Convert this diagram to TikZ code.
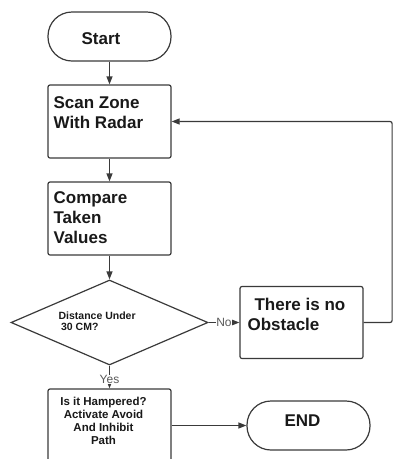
\documentclass[tikz,border=0pt]{standalone}
\usepackage{fontspec}
\setmainfont{Liberation Sans}
\usetikzlibrary{arrows.meta,shapes.geometric}

\definecolor{linegray}{HTML}{3A3A3A}
\definecolor{labelgray}{HTML}{5A5A5A}

\begin{document}
\begin{tikzpicture}[x=1pt, y=-1pt, >={Triangle[length=8pt, width=6pt]}, line width=1.2pt,
		terminal/.style={draw=linegray, rounded corners=24pt, minimum width=123pt, minimum height=49pt, inner sep=0pt},
		procbox/.style={draw=linegray, rounded corners=2pt, minimum width=123pt, inner sep=0pt},
		decision/.style={draw=linegray, diamond, minimum width=197pt, minimum height=85pt, inner sep=0pt},
		bigtext/.style={font=\fontsize{17}{20}\selectfont\bfseries, text=black!90, inner sep=0pt, align=left},
		smalltext/.style={font=\fontsize{11.5}{13}\selectfont\bfseries, text=black!90, inner sep=0pt},
		flowlabel/.style={font=\fontsize{12}{14}\selectfont, text=labelgray, fill=white, inner sep=0.5pt},
		flow/.style={->, draw=linegray}]
		\useasboundingbox (0,0) rectangle (393,459);
		% Draw the shapes
		\node[terminal] (start) at (109.5,36.5) {};
		\node[procbox, minimum height=73pt] (scan) at (109.5,121.5) {};
		\node[procbox, minimum height=73pt] (compare) at (109.5,218.5) {};
		\node[decision] (dec) at (109.5,322.5) {};
		\node[procbox, minimum height=72pt] (obst) at (301.5,322.5) {};
		\node[procbox, minimum height=85pt] (hamp) at (109.5,431.5) {};
		\node[terminal] (finish) at (308.5,425.5) {};
		% Texts inside the shapes
		\node[bigtext] (start-txt) at (101,38.5) {Start};
		\node[bigtext, anchor=north west] (scan-txt) at (53,96.5) {Scan Zone\\With Radar};
		\node[bigtext, anchor=north west] (compare-txt) at (53,191.5) {Compare\\Taken\\Values};
		\node[smalltext, font=\fontsize{10.5}{11}\selectfont\bfseries, align=left, anchor=north west] (dec-txt) at (58,311) {Distance Under\\\hspace*{2.5pt}30 CM?};
		\node[bigtext, anchor=north west] (obst-txt) at (247,297.5) {\hspace*{7pt}There is no\\Obstacle};
		\node[smalltext, align=center, anchor=north] (hamp-txt) at (103.5,396.5) {Is it Hampered?\\Activate Avoid\\And Inhibit\\Path};
		\node[bigtext] (finish-txt) at (302.5,421) {END};
		% Connectors
		\draw[flow] (start) -- (scan);
		\draw[flow] (scan) -- (compare);
		\draw[flow] (compare) -- (dec);
		\draw[flow] (dec) -- node[flowlabel] {No} (obst);
		\draw[flow] (dec) -- node[flowlabel, pos=0.6] {Yes} (hamp);
		\draw[flow, rounded corners=2pt] (obst.east) -- ++(28.5,0) |- (scan.east);
		\draw[flow] (hamp.east |- finish.west) -- (finish.west);
	\end{tikzpicture}
\end{document}
